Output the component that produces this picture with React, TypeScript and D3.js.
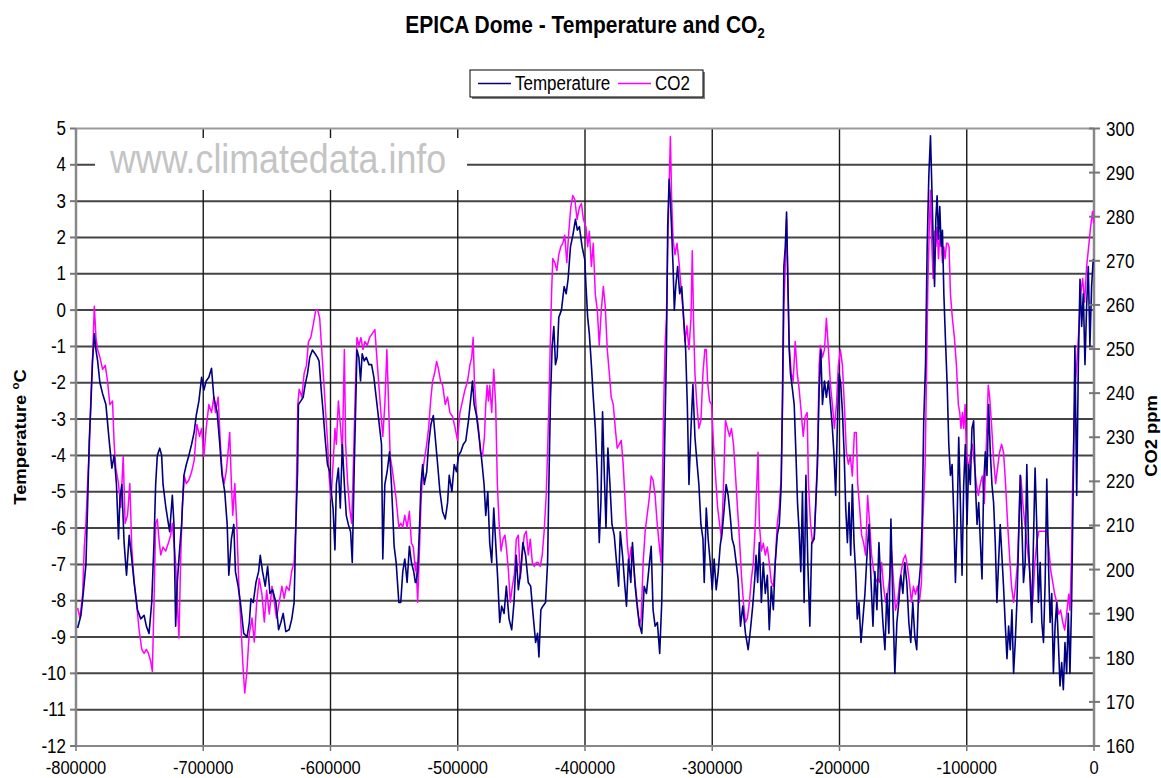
import React from 'react';
import * as d3 from 'd3';

const W = 1161;
const H = 778;
const FONT = "'Liberation Sans', Arial, Helvetica, sans-serif";

const yearTicks = [-800000, -700000, -600000, -500000, -400000, -300000, -200000, -100000, 0];
const tempTicks = [-12, -11, -10, -9, -8, -7, -6, -5, -4, -3, -2, -1, 0, 1, 2, 3, 4, 5];
const co2Ticks = [160, 170, 180, 190, 200, 210, 220, 230, 240, 250, 260, 270, 280, 290, 300];

const seriesNames = ['Temperature', 'CO2'];
const seriesColors = ['#000080', '#ff00ff'];

// temperature anomaly, [thousand years, deg C]
const temperature: [number, number][] = [
  [-798.7, -8.75], [-796.1, -8.4], [-794.3, -7.8], [-792.2, -7.0], [-790.9, -5.4], [-789.6, -3.6],
  [-788.3, -2.6], [-787.0, -1.4], [-785.6, -0.65], [-784.3, -1.1], [-783.0, -1.4], [-781.2, -2.0],
  [-779.1, -2.3], [-776.5, -2.6], [-773.9, -3.6], [-771.8, -4.35], [-770.0, -4.0], [-768.2, -4.8],
  [-766.6, -6.3], [-765.5, -5.2], [-764.0, -4.8], [-762.2, -6.4], [-760.3, -7.3], [-758.2, -6.2],
  [-756.2, -6.85], [-754.3, -7.5], [-751.7, -8.25], [-749.1, -8.5], [-746.5, -8.4], [-744.7, -8.7],
  [-742.6, -8.9], [-740.5, -8.05], [-738.7, -6.4], [-737.4, -4.8], [-736.1, -4.0], [-734.2, -3.8],
  [-732.7, -4.0], [-731.6, -4.8], [-729.5, -5.4], [-728.0, -5.75], [-726.4, -6.1], [-724.3, -5.1],
  [-723.0, -5.9], [-721.7, -8.7], [-720.4, -7.5], [-718.6, -6.6], [-717.0, -5.9], [-715.2, -4.55],
  [-713.3, -4.25], [-711.3, -4.0], [-709.2, -3.7], [-707.1, -3.35], [-705.5, -2.9], [-703.4, -2.5],
  [-701.3, -1.85], [-699.5, -2.2], [-697.7, -1.95], [-695.6, -1.85], [-693.5, -1.6], [-691.7, -2.4],
  [-689.1, -2.8], [-687.2, -3.6], [-685.2, -4.55], [-683.1, -5.0], [-681.2, -5.9], [-679.9, -7.3],
  [-677.9, -6.3], [-676.0, -5.9], [-674.7, -7.2], [-672.6, -7.6], [-670.8, -8.05], [-668.2, -8.9],
  [-665.6, -9.0], [-663.8, -8.6], [-662.5, -7.95], [-660.7, -8.05], [-658.6, -7.5], [-656.5, -7.2],
  [-655.2, -6.75], [-653.4, -7.2], [-651.3, -7.6], [-649.4, -7.05], [-647.6, -7.8], [-645.5, -7.7],
  [-642.9, -8.05], [-640.8, -8.8], [-639.0, -8.6], [-637.2, -8.35], [-635.1, -8.85], [-632.5, -8.8],
  [-630.4, -8.5], [-628.6, -8.05], [-627.2, -5.9], [-625.9, -4.45], [-625.2, -2.6], [-623.3, -2.5],
  [-621.5, -2.4], [-619.9, -2.05], [-618.1, -1.75], [-616.3, -1.3], [-614.2, -1.1], [-612.1, -1.2],
  [-610.3, -1.3], [-609.0, -1.4], [-607.4, -2.15], [-605.8, -2.8], [-604.3, -3.5], [-602.4, -4.25],
  [-600.6, -4.45], [-599.1, -5.1], [-598.0, -5.45], [-596.5, -6.6], [-595.4, -4.8], [-593.8, -4.35],
  [-592.3, -5.45], [-590.7, -3.7], [-589.1, -4.8], [-587.6, -5.65], [-586.0, -5.9], [-584.2, -6.1],
  [-582.9, -6.95], [-581.3, -4.25], [-580.3, -2.8], [-579.2, -1.1], [-577.7, -1.3], [-576.4, -1.95],
  [-575.1, -1.2], [-573.5, -1.4], [-571.9, -1.3], [-569.8, -1.5], [-567.7, -1.5], [-565.9, -1.85],
  [-564.1, -2.4], [-562.0, -3.05], [-559.9, -3.7], [-558.9, -6.85], [-557.3, -4.8], [-555.5, -4.45],
  [-553.6, -3.9], [-552.1, -4.8], [-551.0, -5.65], [-550.0, -6.5], [-548.4, -6.95], [-546.3, -8.05],
  [-544.8, -8.05], [-543.2, -7.2], [-541.6, -6.85], [-539.8, -7.5], [-538.0, -6.5], [-536.4, -6.95],
  [-534.6, -7.2], [-533.3, -7.5], [-532.8, -7.5], [-531.5, -7.2], [-530.2, -6.1], [-528.9, -4.8],
  [-527.6, -4.25], [-526.3, -4.8], [-524.4, -4.45], [-522.9, -3.7], [-521.1, -3.15], [-519.2, -2.9],
  [-517.7, -3.5], [-515.8, -4.25], [-514.0, -5.0], [-511.9, -5.55], [-509.8, -5.75], [-508.0, -5.3],
  [-506.7, -4.55], [-504.6, -5.0], [-502.8, -4.25], [-501.0, -4.45], [-499.4, -4.0], [-497.6, -3.9],
  [-495.7, -3.7], [-493.7, -3.6], [-491.6, -3.05], [-489.7, -2.4], [-488.4, -1.95], [-487.1, -2.6],
  [-485.3, -2.9], [-483.2, -3.5], [-481.1, -4.15], [-479.3, -4.8], [-478.0, -5.65], [-476.4, -5.0],
  [-474.9, -6.4], [-473.3, -6.95], [-471.7, -5.45], [-470.2, -6.4], [-468.6, -7.4], [-467.0, -8.6],
  [-465.5, -8.15], [-463.6, -8.35], [-461.8, -7.6], [-459.7, -8.5], [-457.6, -8.8], [-455.8, -8.05],
  [-454.0, -6.75], [-452.4, -7.7], [-450.6, -7.2], [-448.8, -6.4], [-446.7, -6.75], [-444.6, -7.5],
  [-442.7, -7.6], [-440.9, -8.35], [-438.8, -9.15], [-437.3, -8.9], [-436.2, -9.55], [-434.7, -8.25],
  [-433.1, -8.15], [-431.0, -8.05], [-429.4, -6.95], [-428.4, -4.8], [-427.1, -2.4], [-425.8, -0.98],
  [-424.5, -0.45], [-423.2, -1.5], [-421.9, -1.3], [-420.6, -0.2], [-418.5, 0.0], [-416.4, 0.65],
  [-414.8, 0.45], [-413.3, 0.85], [-411.4, 1.75], [-409.6, 2.05], [-407.5, 2.5], [-406.0, 2.2],
  [-404.4, 2.3], [-402.3, 1.75], [-400.2, 1.4], [-399.2, 0.65], [-397.9, -0.2], [-396.6, -0.65],
  [-395.0, -1.5], [-393.5, -2.4], [-391.9, -3.25], [-390.3, -4.55], [-388.8, -6.4], [-387.5, -5.3],
  [-386.2, -2.8], [-384.8, -4.55], [-383.5, -6.0], [-382.0, -3.8], [-380.4, -4.8], [-378.8, -5.9],
  [-377.0, -6.2], [-375.2, -6.95], [-373.6, -7.6], [-372.3, -6.1], [-370.5, -6.75], [-368.9, -7.5],
  [-367.4, -8.15], [-365.8, -6.85], [-364.0, -7.5], [-362.7, -6.4], [-360.6, -7.6], [-358.7, -8.25],
  [-356.9, -8.7], [-355.4, -8.9], [-353.5, -7.6], [-351.7, -7.8], [-349.6, -7.05], [-348.0, -6.5],
  [-346.5, -8.25], [-344.9, -8.7], [-343.1, -8.6], [-341.3, -9.45], [-339.7, -8.05], [-338.4, -5.65],
  [-337.3, -3.5], [-336.0, -1.1], [-335.0, 2.3], [-333.9, 3.6], [-332.9, 3.05], [-331.9, 2.2],
  [-330.8, 1.2], [-329.8, 0.0], [-328.7, 0.65], [-327.2, 1.2], [-325.6, 0.45], [-324.0, 0.65],
  [-322.5, -0.2], [-320.9, -1.1], [-319.6, -2.6], [-318.3, -4.8], [-316.7, -3.25], [-315.2, -2.05],
  [-313.6, -3.5], [-312.1, -4.15], [-310.5, -4.8], [-308.9, -5.9], [-307.3, -6.3], [-306.3, -7.5],
  [-304.7, -5.45], [-303.2, -6.3], [-301.6, -6.95], [-300.0, -7.7], [-298.5, -6.85], [-296.9, -7.7],
  [-295.3, -7.2], [-293.8, -6.5], [-292.2, -6.1], [-290.6, -5.45], [-289.1, -4.8], [-287.5, -5.1],
  [-285.9, -5.65], [-284.4, -6.3], [-282.8, -6.5], [-281.2, -6.95], [-279.7, -7.4], [-277.8, -8.7],
  [-276.0, -8.15], [-273.9, -8.9], [-271.8, -9.35], [-270.0, -8.8], [-268.2, -8.15], [-266.6, -7.4],
  [-265.6, -6.75], [-264.3, -7.5], [-263.0, -6.4], [-261.4, -8.05], [-259.9, -6.95], [-258.3, -7.8],
  [-256.7, -7.3], [-255.2, -8.8], [-253.6, -7.6], [-252.0, -8.25], [-250.5, -6.95], [-248.9, -6.2],
  [-247.3, -5.9], [-245.8, -4.8], [-244.7, -2.05], [-243.7, 1.2], [-242.6, 1.75], [-241.6, 2.7],
  [-240.5, 0.65], [-239.5, -1.1], [-238.5, -1.75], [-236.9, -2.2], [-235.6, -2.6], [-234.3, -3.9],
  [-233.0, -5.3], [-231.7, -6.1], [-230.4, -7.2], [-229.1, -5.0], [-227.8, -8.05], [-226.4, -4.55],
  [-224.9, -6.95], [-223.3, -8.7], [-221.8, -6.4], [-219.9, -6.3], [-218.6, -5.3], [-217.3, -4.25],
  [-216.0, -2.2], [-214.7, -1.1], [-213.4, -2.6], [-211.8, -1.95], [-210.3, -2.4], [-208.7, -1.95],
  [-207.1, -2.6], [-205.6, -3.25], [-204.3, -4.0], [-203.0, -5.1], [-201.6, -3.05], [-200.3, -1.75],
  [-199.0, -2.05], [-197.7, -2.8], [-196.4, -3.9], [-195.1, -5.45], [-193.8, -6.4], [-192.5, -5.3],
  [-191.2, -6.75], [-189.9, -4.8], [-188.6, -6.4], [-187.3, -7.2], [-186.0, -8.5], [-184.7, -8.05],
  [-183.1, -9.15], [-181.6, -8.5], [-180.0, -7.8], [-178.4, -6.75], [-176.8, -5.9], [-175.3, -7.4],
  [-173.7, -8.7], [-172.2, -7.2], [-170.6, -8.25], [-169.0, -6.4], [-167.5, -7.6], [-165.9, -8.6],
  [-164.3, -9.35], [-162.8, -7.8], [-161.2, -8.9], [-159.6, -5.75], [-158.1, -8.05], [-156.5, -10.0],
  [-154.9, -8.6], [-153.4, -8.05], [-151.8, -7.3], [-150.2, -7.8], [-148.7, -6.95], [-147.1, -7.5],
  [-145.5, -8.6], [-144.0, -9.15], [-142.4, -8.05], [-140.8, -9.0], [-139.3, -9.35], [-137.7, -7.6],
  [-136.1, -6.95], [-135.1, -5.9], [-133.8, -3.05], [-132.4, -1.5], [-131.1, 1.75], [-129.8, 3.7],
  [-128.5, 4.8], [-127.4, 3.35], [-126.4, 1.95], [-125.3, 0.65], [-124.3, 2.5], [-123.3, 3.15],
  [-122.2, 1.95], [-121.2, 2.85], [-120.1, 1.75], [-119.1, 2.2], [-118.0, 0.45], [-116.7, -0.85],
  [-115.4, -2.05], [-114.1, -3.7], [-112.8, -4.55], [-111.5, -4.25], [-110.2, -5.65], [-108.9, -7.5],
  [-107.6, -5.9], [-106.3, -3.5], [-105.0, -5.3], [-103.7, -7.3], [-102.4, -4.8], [-101.1, -3.7],
  [-99.8, -5.9], [-98.5, -4.25], [-97.2, -4.8], [-95.9, -3.25], [-94.6, -3.05], [-93.2, -4.8],
  [-91.9, -5.9], [-90.6, -5.3], [-89.3, -6.4], [-88.0, -7.4], [-86.7, -4.8], [-85.4, -3.9],
  [-84.1, -4.55], [-82.8, -2.6], [-81.5, -3.9], [-80.2, -4.8], [-78.9, -5.3], [-77.6, -6.4],
  [-76.3, -8.05], [-75.0, -6.95], [-73.7, -5.9], [-72.4, -6.75], [-71.1, -7.6], [-69.8, -8.6],
  [-68.4, -9.6], [-67.1, -8.7], [-65.8, -9.35], [-64.5, -8.25], [-63.2, -10.0], [-61.9, -9.15],
  [-60.6, -8.05], [-59.3, -6.4], [-58.0, -4.55], [-56.7, -5.9], [-55.4, -7.5], [-54.1, -6.95],
  [-52.8, -4.25], [-51.5, -6.4], [-50.2, -7.5], [-48.9, -8.6], [-47.6, -6.4], [-46.3, -4.35],
  [-45.0, -5.9], [-43.7, -8.05], [-42.3, -6.95], [-41.0, -8.6], [-39.7, -9.15], [-38.4, -7.5],
  [-37.1, -4.65], [-35.8, -6.95], [-34.5, -8.6], [-33.2, -7.8], [-31.9, -10.0], [-30.6, -8.7],
  [-29.3, -8.05], [-28.0, -9.15], [-26.7, -10.35], [-25.4, -9.7], [-24.1, -10.45], [-22.8, -9.15],
  [-21.5, -10.0], [-20.2, -8.35], [-18.9, -10.0], [-17.6, -8.05], [-16.3, -4.8], [-15.0, -0.98],
  [-13.6, -5.1], [-12.3, -1.5], [-11.0, 0.85], [-9.7, -0.45], [-8.4, 0.45], [-7.1, -1.5],
  [-5.8, 0.1], [-4.5, 1.2], [-3.2, -0.98], [-1.9, 0.65], [-0.6, 1.4],
];

// CO2, [thousand years, ppm]
const co2: [number, number][] = [
  [-798.7, 191.3], [-796.9, 189], [-794.8, 194.4], [-793.5, 205.1], [-792.2, 210.5], [-790.9, 219.5],
  [-789.6, 226.6], [-788.3, 239.1], [-787.0, 248.1], [-785.6, 259.7], [-784.3, 252.6], [-783.0, 249.9],
  [-781.2, 248.1], [-779.1, 245.4], [-777.0, 246.3], [-775.2, 242.7], [-773.4, 237.4], [-771.3, 238.2],
  [-770.0, 228.4], [-768.7, 223], [-766.6, 219.5], [-764.8, 214.1], [-762.9, 225.7], [-761.4, 210.5],
  [-759.5, 212.3], [-757.7, 219.5], [-756.2, 205.1], [-754.3, 197.1], [-752.5, 192.6], [-750.4, 186.3],
  [-748.3, 181.9], [-746.5, 181], [-744.7, 181.9], [-743.1, 181], [-741.3, 179.2], [-740.0, 176.9],
  [-738.7, 192.6], [-737.4, 210.5], [-736.1, 211.4], [-734.8, 206.9], [-733.4, 203.3], [-731.6, 205.1],
  [-729.5, 204.2], [-727.4, 206], [-725.6, 207.8], [-724.3, 210.5], [-723.0, 206], [-721.7, 201.6],
  [-720.4, 192.6], [-719.1, 184.5], [-717.8, 201.6], [-716.5, 214.1], [-714.9, 221.2], [-713.3, 219.5],
  [-711.3, 220.3], [-709.2, 222.1], [-707.1, 224.8], [-705.0, 232.9], [-702.9, 230.2], [-701.3, 232],
  [-699.5, 225.7], [-697.7, 232], [-695.6, 237.4], [-693.5, 235.6], [-691.7, 239.1], [-690.4, 235.6],
  [-688.3, 239.1], [-686.5, 228.4], [-685.2, 222.1], [-683.6, 219.5], [-682.0, 222.1], [-680.5, 226.6],
  [-679.2, 231.1], [-677.9, 219.5], [-676.8, 212.3], [-675.2, 219.5], [-673.7, 210.5], [-672.1, 197.1],
  [-670.5, 188.1], [-669.0, 179.2], [-667.4, 172], [-665.8, 176.5], [-664.3, 183.6], [-663.8, 185.4],
  [-661.7, 189], [-659.9, 183.6], [-658.0, 192.6], [-656.0, 198], [-653.9, 194.4], [-652.0, 188.1],
  [-650.2, 195.3], [-648.1, 189.9], [-646.0, 196.2], [-644.2, 192.6], [-642.4, 189], [-640.3, 192.6],
  [-638.2, 196.2], [-636.4, 193.5], [-634.6, 196.2], [-632.5, 195.3], [-630.4, 199.8], [-628.6, 201.6],
  [-627.2, 210.5], [-626.5, 223.9], [-625.7, 237.4], [-624.6, 240.9], [-622.5, 239.1], [-620.7, 244.5],
  [-618.9, 246.3], [-617.3, 251.7], [-615.5, 252.6], [-613.7, 255.3], [-611.6, 258.8], [-610.0, 258.8],
  [-608.5, 257], [-606.9, 249.9], [-605.3, 242.7], [-603.8, 235.6], [-602.2, 228.4], [-601.1, 221.2],
  [-599.6, 215.9], [-598.0, 223.9], [-596.5, 232], [-595.4, 228.4], [-593.8, 238.2], [-592.3, 232.9],
  [-590.7, 226.6], [-589.1, 249.9], [-588.1, 228.4], [-586.5, 219.5], [-585.0, 214.1], [-583.4, 210.5],
  [-582.4, 219.5], [-580.8, 237.4], [-579.2, 252.6], [-577.7, 250.8], [-576.1, 252.6], [-574.5, 249.9],
  [-573.0, 251.7], [-571.1, 250.8], [-569.3, 252.6], [-567.2, 253.5], [-565.1, 254.4], [-563.6, 248.1],
  [-562.0, 241.8], [-560.4, 235.6], [-558.9, 230.2], [-557.3, 237.4], [-555.7, 249.9], [-554.7, 240.9],
  [-553.1, 225.7], [-551.6, 223], [-550.0, 219.5], [-548.4, 215.9], [-546.3, 209.6], [-544.8, 210.5],
  [-543.2, 209.6], [-541.6, 212.3], [-539.8, 209.6], [-538.0, 213.2], [-536.4, 206], [-534.9, 205.1],
  [-533.3, 199.8], [-532.8, 201.6], [-531.5, 192.6], [-530.2, 203.3], [-528.9, 215], [-527.6, 222.1],
  [-526.3, 224.8], [-524.4, 228.4], [-522.9, 232], [-521.3, 238.2], [-519.8, 242.7], [-518.2, 244.5],
  [-516.6, 247.2], [-515.1, 245.4], [-513.5, 242.7], [-511.9, 241.8], [-509.8, 237.4], [-508.0, 239.1],
  [-506.2, 235.6], [-504.1, 234.7], [-502.0, 232], [-500.2, 229.3], [-498.3, 235.6], [-496.3, 238.2],
  [-494.2, 240.9], [-492.3, 242.7], [-490.5, 246.3], [-489.0, 248.1], [-487.9, 252.6], [-486.9, 242.7],
  [-485.3, 235.6], [-483.7, 232], [-482.2, 226.6], [-480.6, 225.7], [-479.0, 230.2], [-478.0, 237.4],
  [-476.9, 241.8], [-475.9, 238.2], [-474.9, 241.8], [-473.3, 235.6], [-471.7, 245.4], [-470.2, 237.4],
  [-468.9, 219.5], [-467.5, 210.5], [-466.0, 204.2], [-464.4, 206.9], [-462.9, 207.8], [-461.8, 205.1],
  [-460.2, 199.8], [-458.7, 192.6], [-457.1, 196.2], [-455.5, 198.9], [-454.0, 206.9], [-452.4, 207.8],
  [-450.8, 198], [-449.3, 203.3], [-447.7, 207.8], [-446.1, 208.7], [-444.6, 203.3], [-443.0, 206.9],
  [-441.4, 201.6], [-439.9, 200.7], [-438.3, 201.6], [-436.8, 201.6], [-435.2, 200.7], [-433.6, 203.3],
  [-432.1, 208.7], [-430.5, 216.8], [-429.4, 226.6], [-428.4, 237.4], [-427.4, 249.9], [-426.3, 262.4],
  [-425.3, 270.5], [-423.7, 269.6], [-422.1, 267.8], [-420.6, 271.4], [-419.0, 273.2], [-417.4, 274],
  [-415.9, 275.8], [-414.3, 269.6], [-412.7, 276.7], [-411.2, 282.1], [-409.6, 284.8], [-408.0, 283.9],
  [-406.2, 279.4], [-404.4, 282.1], [-402.8, 283], [-401.3, 279.4], [-399.2, 277.6], [-397.9, 273.2],
  [-396.6, 276.7], [-395.0, 268.7], [-393.5, 274], [-391.9, 262.4], [-390.3, 258.8], [-388.8, 250.8],
  [-387.2, 258.8], [-385.6, 264.2], [-384.1, 259.7], [-382.5, 249.9], [-380.9, 244.5], [-379.4, 239.1],
  [-377.8, 237.4], [-376.2, 232], [-374.7, 227.5], [-373.1, 228.4], [-371.5, 229.3], [-370.0, 223.9],
  [-368.4, 215], [-366.8, 206], [-365.3, 201.6], [-363.7, 205.1], [-362.1, 201.6], [-360.6, 197.1],
  [-359.0, 192.6], [-357.4, 187.2], [-355.9, 189], [-354.3, 201.6], [-352.7, 208.7], [-351.2, 212.3],
  [-349.6, 215.9], [-348.0, 221.2], [-346.5, 220.3], [-344.9, 216.8], [-343.3, 210.5], [-341.8, 206],
  [-340.2, 201.6], [-339.2, 219.5], [-338.1, 237.4], [-337.1, 250.8], [-336.0, 257], [-335.0, 273.2],
  [-333.9, 286.6], [-332.9, 298.2], [-331.9, 283.9], [-330.8, 274.9], [-329.3, 271.4], [-327.7, 274],
  [-326.1, 269.6], [-324.6, 264.2], [-323.0, 258.8], [-321.4, 251.7], [-319.9, 255.3], [-318.3, 249.9],
  [-316.7, 257], [-315.7, 272.3], [-314.6, 255.3], [-313.6, 244.5], [-312.1, 237.4], [-310.5, 232],
  [-308.9, 233.8], [-307.3, 244.5], [-305.8, 249.9], [-304.7, 249.9], [-303.7, 242.7], [-302.1, 238.2],
  [-300.5, 237.4], [-299.0, 228.4], [-297.4, 221.2], [-295.8, 214.1], [-294.3, 210.5], [-292.7, 206.9],
  [-291.1, 219.5], [-289.6, 233.8], [-288.0, 232], [-286.4, 230.2], [-284.9, 232], [-283.3, 228.4],
  [-281.7, 221.2], [-280.2, 214.1], [-278.6, 206.9], [-277.1, 198.9], [-275.5, 192.6], [-273.9, 188.1],
  [-272.4, 189], [-270.8, 192.6], [-269.2, 198], [-267.7, 201.6], [-266.1, 210.5], [-265.6, 215],
  [-264.0, 226.6], [-263.0, 210.5], [-261.4, 204.2], [-259.9, 206], [-258.3, 203.3], [-256.7, 205.1],
  [-255.2, 201.6], [-253.6, 197.1], [-252.0, 196.2], [-250.5, 201.6], [-248.9, 210.5], [-247.3, 214.1],
  [-245.8, 221.2], [-244.7, 237.4], [-243.7, 259.7], [-242.6, 268.7], [-241.6, 279.4], [-240.5, 264.2],
  [-239.5, 250.8], [-237.9, 244.5], [-236.4, 242.7], [-234.8, 251.7], [-233.2, 244.5], [-231.7, 240.9],
  [-230.1, 235.6], [-228.5, 230.2], [-227.0, 234.7], [-225.4, 235.6], [-224.4, 219.5], [-222.8, 210.5],
  [-221.2, 206], [-219.7, 207.8], [-218.1, 219.5], [-217.1, 228.4], [-216.0, 246.3], [-215.0, 250.8],
  [-213.4, 248.1], [-211.8, 249.9], [-210.3, 257], [-208.7, 249.9], [-207.1, 241.8], [-205.6, 237.4],
  [-204.0, 232], [-202.4, 237.4], [-200.9, 246.3], [-199.3, 249.9], [-197.7, 246.3], [-196.2, 237.4],
  [-194.6, 226.6], [-193.0, 223.9], [-191.5, 225.7], [-189.9, 221.2], [-188.3, 231.1], [-186.8, 231.1],
  [-185.7, 219.5], [-184.2, 214.1], [-182.6, 207.8], [-181.0, 206], [-179.5, 203.3], [-177.9, 216.8],
  [-176.3, 210.5], [-174.8, 203.3], [-173.2, 199.8], [-171.6, 197.1], [-170.1, 198], [-168.5, 197.1],
  [-166.9, 201.6], [-165.4, 196.2], [-163.8, 192.6], [-162.2, 194.4], [-160.7, 198], [-159.1, 204.2],
  [-157.5, 197.1], [-156.0, 190.8], [-154.4, 192.6], [-152.8, 197.1], [-151.3, 199.8], [-149.7, 202.4],
  [-148.2, 203.3], [-146.6, 200.7], [-145.0, 197.1], [-143.5, 192.6], [-141.9, 196.2], [-140.3, 194.4],
  [-138.8, 196.2], [-137.2, 192.6], [-135.6, 197.1], [-134.6, 210.5], [-132.7, 223.9], [-131.6, 244.5],
  [-130.6, 264.2], [-129.5, 276.7], [-128.5, 286], [-127.4, 273.2], [-126.4, 266], [-125.3, 276.7],
  [-124.3, 273.2], [-123.3, 277.6], [-122.2, 270.5], [-121.2, 275.8], [-120.1, 274], [-119.1, 269.6],
  [-118.0, 273.2], [-117.0, 270.5], [-115.9, 274], [-114.9, 274], [-113.9, 273.2], [-112.8, 262.4],
  [-111.3, 257], [-109.7, 252.6], [-108.1, 246.3], [-106.6, 237.4], [-105.5, 235.6], [-104.5, 232],
  [-103.4, 235.6], [-102.4, 232], [-101.3, 237.4], [-100.3, 226.6], [-98.7, 223], [-97.2, 225.7],
  [-95.6, 228.4], [-94.0, 223.9], [-92.5, 219.5], [-90.9, 216.8], [-89.3, 219.5], [-87.8, 221.2],
  [-86.2, 215], [-84.6, 228.4], [-83.1, 241.8], [-82.0, 239.1], [-80.5, 232.9], [-78.9, 224.8],
  [-77.3, 219.5], [-75.8, 223], [-74.2, 226.6], [-72.6, 228.4], [-71.1, 226.6], [-69.5, 219.5],
  [-67.9, 210.5], [-66.4, 203.3], [-64.8, 196.2], [-63.2, 192.6], [-61.7, 196.2], [-60.1, 201.6],
  [-58.5, 215], [-57.5, 221.2], [-55.9, 215], [-54.4, 210.5], [-52.8, 206], [-51.2, 201.6],
  [-49.7, 197.1], [-48.1, 192.6], [-46.5, 201.6], [-45.0, 206], [-43.4, 208.7], [-41.8, 208.7],
  [-40.3, 208.7], [-38.7, 208.7], [-37.1, 208.7], [-35.6, 205.1], [-34.0, 199.8], [-32.4, 197.1],
  [-30.9, 194.4], [-29.3, 192.6], [-27.7, 189.9], [-26.2, 190.8], [-24.6, 188.1], [-23.0, 186.3],
  [-21.5, 189.9], [-19.9, 194.4], [-18.9, 190.8], [-17.8, 201.6], [-16.8, 219.5], [-15.7, 232.9],
  [-14.7, 241.8], [-13.6, 246.3], [-12.1, 253.5], [-10.5, 262.4], [-8.9, 266], [-7.4, 260.6],
  [-5.8, 268.7], [-4.2, 273.2], [-2.7, 277.6], [-1.1, 281.2], [-0.1, 278.5],
];

// the original picture is stretched vertically, so text is stretched too
const STRETCH = 1.15;

const Txt = ({ x, y, anchor = 'start', size = 17, bold = false, rotate = false, fill = '#000', sy = STRETCH, children }: any) => (
  <text
    transform={rotate
      ? `translate(${x},${y}) rotate(-90) scale(${sy},1)`
      : `translate(${x},${y}) scale(1,${sy})`}
    textAnchor={anchor}
    fontSize={size}
    fontWeight={bold ? 'bold' : 'normal'}
    fontFamily={FONT}
    fill={fill}
  >
    {children}
  </text>
);

export default function App() {
  const left = 76, right = 1094, top = 128.5, bottom = 746;

  const x = d3.scaleLinear().domain([-800000, 0]).range([left, right]);
  const yT = d3.scaleLinear().domain([-12, 5]).range([bottom, top]);
  const yC = d3.scaleLinear().domain([160, 300]).range([bottom, top]);

  const tempLine = d3.line<[number, number]>()
    .x(d => x(d[0] * 1000))
    .y(d => yT(d[1]));
  const co2Line = d3.line<[number, number]>()
    .x(d => x(d[0] * 1000))
    .y(d => yC(d[1]));

  return (
    <svg width={W} height={H} style={{ position: 'absolute', left: 0, top: 0, background: '#fff' }}>
      <rect x={0} y={0} width={W} height={H} fill="#fff" />

      {/* title */}
      <Txt x={585} y={33} anchor="middle" size={21} bold>
        EPICA Dome - Temperature and CO<tspan fontSize={13} dy={4}>2</tspan>
      </Txt>

      {/* legend */}
      <rect x={472} y={72} width={233} height={27} fill="#808080" />
      <rect x={470} y={70} width={233} height={27} fill="#fff" stroke="#000" strokeWidth={1} />
      <line x1={478} x2={511} y1={83.5} y2={83.5} stroke={seriesColors[0]} strokeWidth={1.5} />
      <Txt x={515} y={90}>{seriesNames[0]}</Txt>
      <line x1={618} x2={651} y1={83.5} y2={83.5} stroke={seriesColors[1]} strokeWidth={1.5} />
      <Txt x={655} y={90}>{seriesNames[1]}</Txt>

      {/* horizontal gridlines */}
      {tempTicks.filter(t => t > -12 && t < 5).map(t => (
        <line key={'h' + t} x1={left} x2={right} y1={yT(t)} y2={yT(t)} stroke="#444" strokeWidth={2} />
      ))}
      {/* vertical gridlines */}
      {yearTicks.filter(v => v > -800000 && v < 0).map(v => (
        <line key={'v' + v} x1={x(v)} x2={x(v)} y1={top} y2={bottom} stroke="#1a1a1a" strokeWidth={1.4} />
      ))}

      {/* watermark */}
      <rect x={95} y={138} width={372} height={52} fill="#fff" />
      <Txt x={110} y={173} size={35.8} fill="#c4c4c4">www.climatedata.info</Txt>

      {/* plot border / axes */}
      <line x1={left} x2={right} y1={top} y2={top} stroke="#999" strokeWidth={2} />
      <line x1={left} x2={right} y1={bottom} y2={bottom} stroke="#888" strokeWidth={2} />
      <line x1={left} x2={left} y1={top} y2={bottom} stroke="#888" strokeWidth={2.5} />
      <line x1={right} x2={right} y1={top} y2={bottom} stroke="#888" strokeWidth={2.5} />

      {/* data */}
      <path d={co2Line(co2) || ''} fill="none" stroke={seriesColors[1]} strokeWidth={1.5} strokeLinejoin="round" />
      <path d={tempLine(temperature) || ''} fill="none" stroke={seriesColors[0]} strokeWidth={1.6} strokeLinejoin="round" />

      {/* left axis */}
      {tempTicks.map(t => (
        <g key={'lt' + t}>
          <line x1={left - 6} x2={left} y1={yT(t)} y2={yT(t)} stroke="#777" strokeWidth={2} />
          <Txt x={66} y={yT(t) + 6.5} anchor="end">{String(t)}</Txt>
        </g>
      ))}
      {/* right axis */}
      {co2Ticks.map(c => (
        <g key={'rt' + c}>
          <line x1={right - 5} x2={right + 6} y1={yC(c)} y2={yC(c)} stroke="#777" strokeWidth={2} />
          <Txt x={1106} y={yC(c) + 7}>{String(c)}</Txt>
        </g>
      ))}
      {/* bottom axis */}
      {yearTicks.map(v => (
        <g key={'bt' + v}>
          <line x1={x(v)} x2={x(v)} y1={bottom} y2={bottom + 5} stroke="#777" strokeWidth={1.5} />
          <Txt x={x(v)} y={774} anchor="middle" size={16.5} sy={1.1}>{String(v)}</Txt>
        </g>
      ))}

      {/* axis titles */}
      <Txt x={26} y={437} anchor="middle" size={16} bold rotate>
        Temperature <tspan fontSize={10} dy={-7}>o</tspan><tspan dy={7}>C</tspan>
      </Txt>
      <Txt x={1157} y={436} anchor="middle" size={16} bold rotate>CO2 ppm</Txt>
    </svg>
  );
}
